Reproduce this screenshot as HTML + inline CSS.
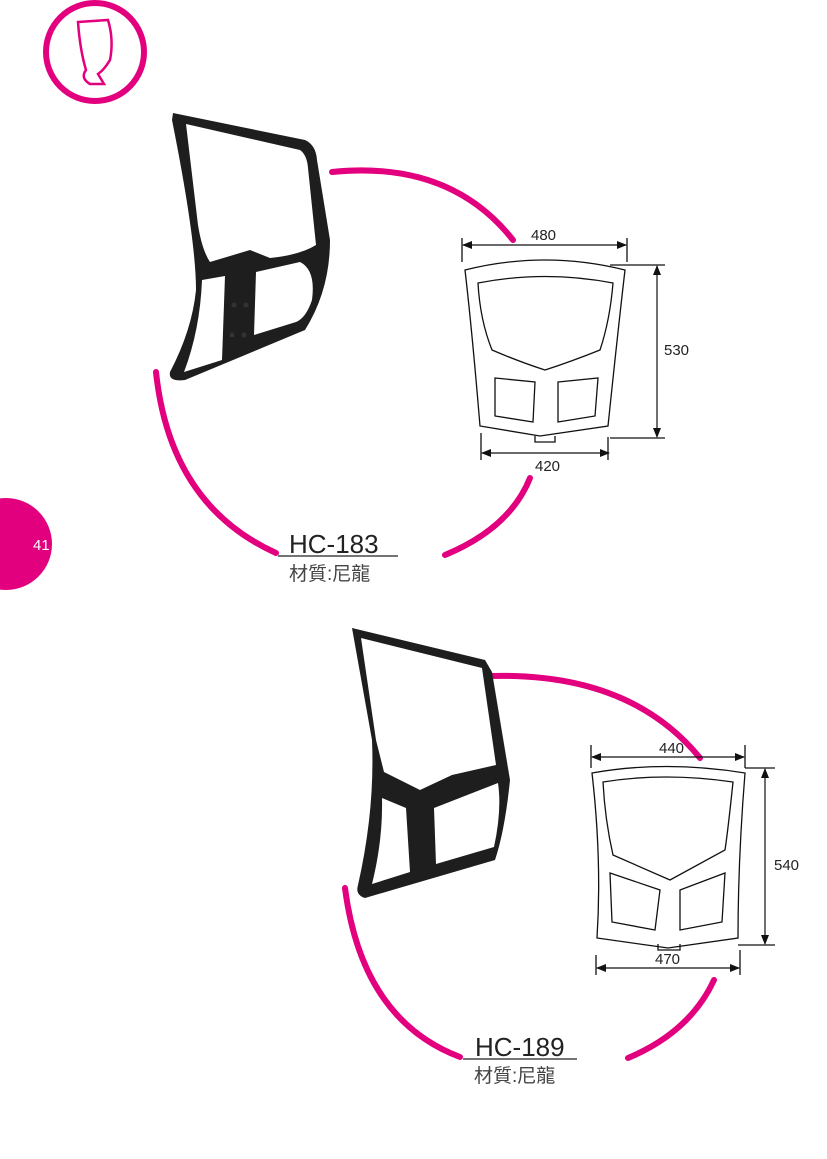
<!DOCTYPE html>
<html><head><meta charset="utf-8"><style>
body{margin:0;background:#fff;}
svg{display:block}
</style></head><body>
<svg width="827" height="1159" viewBox="0 0 827 1159" xmlns="http://www.w3.org/2000/svg" font-family="Liberation Sans, Noto Sans CJK TC, sans-serif">
<defs>
<marker id="a" markerWidth="10" markerHeight="8" refX="9" refY="4" orient="auto-start-reverse" markerUnits="userSpaceOnUse"><path d="M0,0 L10,4 L0,8 Z" fill="#111"/></marker>
</defs>
<!-- logo -->
<circle cx="95" cy="52" r="49" fill="none" stroke="#e3007f" stroke-width="6"/>
<path d="M78,22 L108,20 Q114,40 110,60 Q104,70 98,74 L104,84 L90,84 Q80,78 86,70 Q80,50 78,22Z" fill="none" stroke="#e3007f" stroke-width="2.5"/>
<!-- page number -->
<circle cx="6" cy="544" r="46" fill="#e3007f"/>
<text x="33" y="550" font-size="15" fill="#fff">41</text>

<g fill="none" stroke="#e3007f" stroke-width="6" stroke-linecap="round">
<path d="M332,172 Q450,160 513,240"/>
<path d="M156,372 Q170,505 276,553"/>
<path d="M530,478 Q510,528 445,555"/>
<path d="M490,676 Q630,672 700,758"/>
<path d="M345,888 Q362,1020 460,1057"/>
<path d="M714,980 Q690,1032 628,1058"/>
</g>

<!-- chair 1 photo -->
<path fill-rule="evenodd" fill="#1e1e1e" d="M173,113 L305,140 Q316,145 317,160 L330,240 Q330,290 305,330 L185,380 Q168,382 170,372 Q192,330 196,290 Q196,240 172,120 Z
M186,124 L300,150 Q307,155 308,168 L316,245 Q300,255 270,258 L250,250 L210,262 Q202,250 198,225 Z
M202,280 L225,276 L222,360 L184,372 Q200,330 202,280 Z
M256,272 L300,262 Q316,270 312,300 Q306,318 296,322 L254,335 Z"/>
<g fill="#333"><circle cx="234" cy="305" r="2.5"/><circle cx="246" cy="305" r="2.5"/><circle cx="232" cy="335" r="2.5"/><circle cx="244" cy="335" r="2.5"/></g>

<!-- chair 2 photo -->
<path fill-rule="evenodd" fill="#1e1e1e" d="M352,628 L485,660 L492,672 L510,780 Q505,830 495,860 L365,898 Q355,895 358,885 Q375,810 372,740 Z
M361,638 L482,668 L496,765 L452,775 L420,790 L384,772 L376,740 Z
M382,798 L406,808 L410,872 L372,884 Q383,840 382,798 Z
M434,808 L498,783 Q502,810 494,847 L436,864 Z"/>

<!-- drawing 1 -->
<g fill="none" stroke="#111" stroke-width="1.3">
<path d="M465,270 Q545,250 625,270 Q618,330 608,426 L540,436 L480,426 Q472,330 465,270Z"/>
<path d="M478,283 Q545,270 613,283 Q610,320 600,350 Q570,362 545,370 Q520,362 492,350 Q480,320 478,283Z"/>
<path d="M495,378 L535,382 L533,422 L495,416Z"/>
<path d="M558,382 L598,378 L595,416 L558,422Z"/>
<path d="M535,436 L535,442 L555,442 L555,436"/>
<path d="M462,238 V262 M627,238 V262 M608,437 V460 M481,433 V460 M610,265 H665 M610,438 H665"/>
</g>
<g stroke="#111" stroke-width="1.2">
<line x1="463" y1="245" x2="626" y2="245" marker-start="url(#a)" marker-end="url(#a)"/>
<line x1="657" y1="266" x2="657" y2="437" marker-start="url(#a)" marker-end="url(#a)"/>
<line x1="482" y1="453" x2="609" y2="453" marker-start="url(#a)" marker-end="url(#a)"/>
</g>
<g font-size="15" fill="#222">
<text x="531" y="240">480</text>
<text x="664" y="355">530</text>
<text x="535" y="471">420</text>
</g>

<!-- drawing 2 -->
<g fill="none" stroke="#111" stroke-width="1.3">
<path d="M592,773 Q665,760 745,773 Q738,860 738,938 L668,948 L597,938 Q602,860 592,773Z"/>
<path d="M603,782 Q665,772 733,782 Q728,830 725,850 L670,880 L613,855 Q605,820 603,782Z"/>
<path d="M610,873 L660,890 L655,930 L612,922Z"/>
<path d="M680,890 L725,873 L722,922 L680,930Z"/>
<path d="M658,944 V950 H680 V944"/>
<path d="M591,745 V768 M745,745 V768 M596,955 V975 M740,950 V975 M745,768 H775 M738,945 H775"/>
</g>
<g stroke="#111" stroke-width="1.2">
<line x1="592" y1="757" x2="744" y2="757" marker-start="url(#a)" marker-end="url(#a)"/>
<line x1="765" y1="769" x2="765" y2="944" marker-start="url(#a)" marker-end="url(#a)"/>
<line x1="597" y1="968" x2="739" y2="968" marker-start="url(#a)" marker-end="url(#a)"/>
</g>
<g font-size="15" fill="#222">
<text x="659" y="753">440</text>
<text x="774" y="870">540</text>
<text x="655" y="964">470</text>
</g>

<!-- labels -->
<text x="289" y="553" font-size="26" fill="#222">HC-183</text>
<line x1="278" y1="556" x2="398" y2="556" stroke="#222" stroke-width="1.3"/>
<text x="289" y="580" font-size="19" fill="#444">材質:尼龍</text>
<text x="475" y="1056" font-size="26" fill="#222">HC-189</text>
<line x1="463" y1="1059" x2="577" y2="1059" stroke="#222" stroke-width="1.3"/>
<text x="474" y="1082" font-size="19" fill="#444">材質:尼龍</text>
</svg>
</body></html>
